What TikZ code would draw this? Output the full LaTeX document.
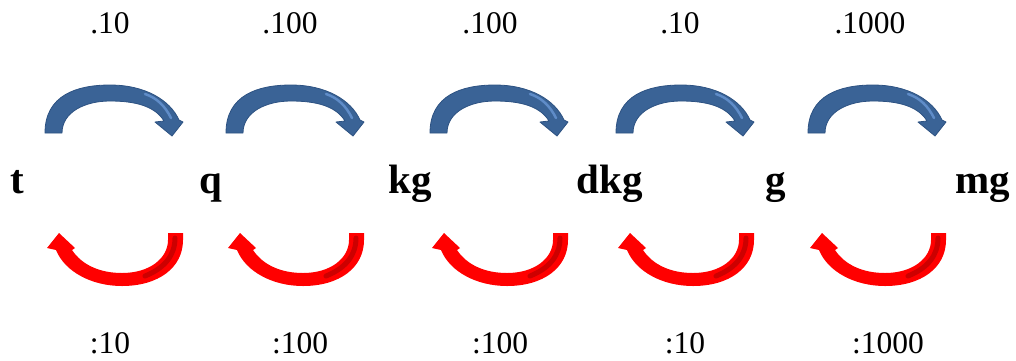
\documentclass[tikz,border=0pt]{standalone}
\usepackage{fontspec}
\setmainfont{Liberation Serif}
\definecolor{arrblue}{RGB}{58,99,150}
\definecolor{arrblueline}{RGB}{45,82,130}
\definecolor{arrbluelight}{RGB}{95,140,200}
\definecolor{arrred}{RGB}{255,0,0}
\definecolor{arrdark}{RGB}{205,0,0}
\tikzset{
  numlabel/.style={anchor=base, inner sep=0pt, font=\fontsize{31.5}{36}\selectfont},
  unitlabel/.style={anchor=base, inner sep=0pt, font=\fontsize{41}{46}\selectfont\bfseries},
  bluearrow/.pic={
    \fill[arrblue, draw=arrblueline, line width=0.8pt, line join=round]
      (0,133) .. controls (0,95) and (32,85) .. (65,85)
      .. controls (100,85) and (125,100) .. (134,120)
      -- (138,122) -- (127,136) -- (110,122) -- (119,121)
      .. controls (110,106) and (90,101) .. (65,101)
      .. controls (40,101) and (17,112) .. (17,133) -- cycle;
    \draw[arrbluelight, line width=2.5pt, line cap=round]
      (100,94) .. controls (112,98) and (120,106) .. (126,118);
  },
  redarrow/.pic={
    \fill[arrred, line join=round]
      (136,233) -- (136,240) .. controls (136,268) and (111,286) .. (75,286)
      .. controls (45,286) and (18,272) .. (9,250)
      -- (0,248) -- (12,233) -- (28,248) -- (25,250)
      .. controls (35,265) and (53,273) .. (75,273)
      .. controls (103,273) and (121,258) .. (121,240) -- (121,233) -- cycle;
    \draw[arrdark, line width=5pt, line cap=round]
      (128,238) .. controls (128,255) and (118,268) .. (98,276);
  }
}
\begin{document}
\begin{tikzpicture}[x=1pt,y=-1pt]
\useasboundingbox (0,0) rectangle (1016,360);
% top factors
\node[numlabel] (m1) at (110,33) {.10};
\node[numlabel] (m2) at (290,33) {.100};
\node[numlabel] (m3) at (490,33) {.100};
\node[numlabel] (m4) at (680,33) {.10};
\node[numlabel] (m5) at (870,33) {.1000};
% units
\node[unitlabel] (t) at (17,193) {t};
\node[unitlabel] (q) at (211,193) {q};
\node[unitlabel] (kg) at (410,193) {kg};
\node[unitlabel] (dkg) at (610,193) {dkg};
\node[unitlabel] (g) at (776,193) {g};
\node[unitlabel] (mg) at (983,193) {mg};
% bottom divisors
\node[numlabel] (d1) at (110,353) {:10};
\node[numlabel] (d2) at (300,353) {:100};
\node[numlabel] (d3) at (500,353) {:100};
\node[numlabel] (d4) at (685,353) {:10};
\node[numlabel] (d5) at (888,353) {:1000};
% arrows
\foreach \ox in {45,226,430,616,808} {
  \pic at (\ox,0) {bluearrow};
}
\foreach \ox in {47,228,432,618,810} {
  \pic at (\ox,0) {redarrow};
}
\end{tikzpicture}
\end{document}
